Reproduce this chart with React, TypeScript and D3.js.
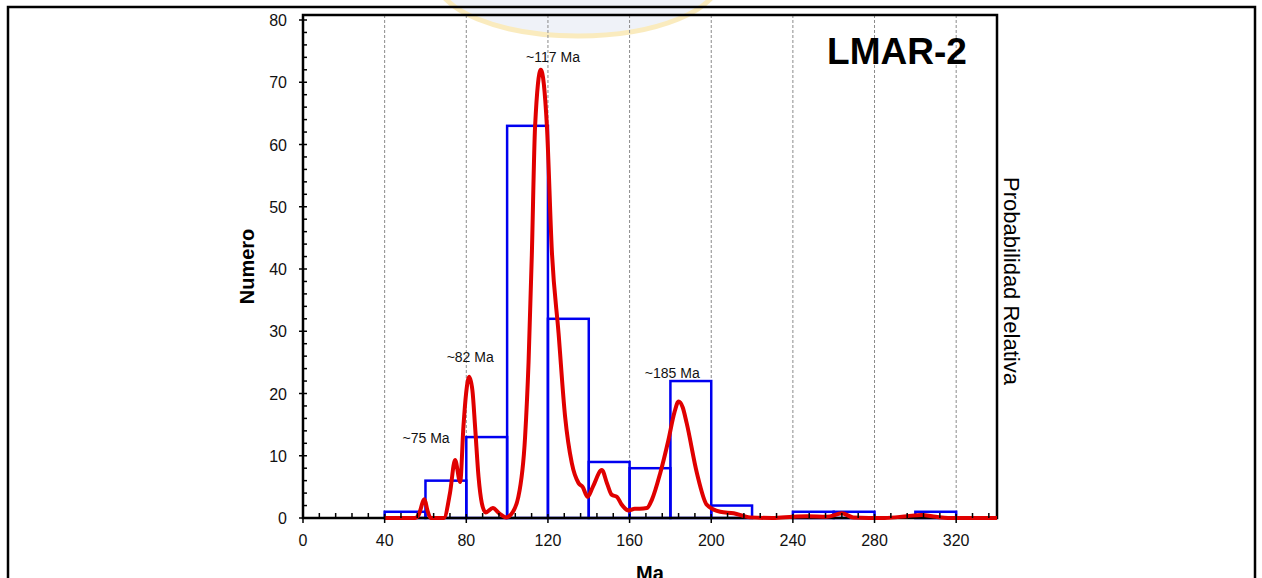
import { useEffect, useRef } from "react";
import * as d3 from "d3";

// histogram bins (20 Ma wide)
const binStarts = [40, 60, 80, 100, 120, 140, 160, 180, 200, 220, 240, 260, 280, 300];
const binCounts = [1, 6, 13, 63, 32, 9, 8, 22, 2, 0, 1, 1, 0, 1];
const binWidth = 20;

// relative probability curve (in units of the left axis)
const curveAges = [
  40, 55, 56.5, 59.5, 61, 62.5, 69, 72, 74.5, 77, 78.6, 79.9, 81.4, 83, 84.3, 86, 87.6, 89.5, 93, 96, 99.5,
  102, 105.5, 108.8, 110.5, 112.1, 113.7, 116.5, 119.5, 121.9, 125.2, 128.4, 131.7, 135, 137, 139.4, 142,
  146.4, 149, 151.3, 153.8, 156, 159.5, 162.5, 165, 168.5, 171, 175, 179, 182, 184, 186, 188, 193, 197.9,
  204.4, 211, 219, 230, 240, 247, 256.7, 264, 269.6, 285, 296, 303, 310, 316, 340,
];
const curveValues = [
  0, 0, 0.4, 3.0, 1.2, 0, 0, 4, 9.3, 5.8, 14.7, 20, 22.7, 20.5, 14.7, 6.6, 2.4, 0.9, 1.6, 0.8, 0.1,
  0.6, 3.4, 13, 25, 42.2, 62.9, 72, 62.9, 43, 29.7, 16.3, 8.8, 5.6, 5, 3.4, 5,
  7.7, 5.5, 3.7, 3.4, 2.2, 1.2, 1.5, 1.5, 1.6, 3, 7.2, 12.5, 17, 18.7, 17.8, 15.2, 7.2, 2.1,
  1.0, 0.75, 0.1, 0, 0.2, 0.3, 0.2, 0.75, 0.1, 0, 0.3, 0.5, 0.2, 0, 0,
];

const peakLabels = ["~75 Ma", "~82 Ma", "~117 Ma", "~185 Ma"];
const peakLabelAges = [60.3, 81.9, 122.5, 180.9];
const peakLabelHeights = [12, 25.1, 73.3, 22.5];

const xTicks = [0, 40, 80, 120, 160, 200, 240, 280, 320];
const xMinorStep = 8;
const yTicks = [0, 10, 20, 30, 40, 50, 60, 70, 80];
const yMinorStep = 2;
const gridTicks = [40, 80, 120, 160, 200, 240, 280, 320];

const FONT = "'Liberation Sans', Arial, Helvetica, sans-serif";

const App = () => {
  const svgRef = useRef<SVGSVGElement>(null);

  useEffect(() => {
    const svg = d3.select(svgRef.current);
    svg.selectAll("*").remove();

    const width = 1262;
    const height = 578;
    const plotLeft = 303;
    const plotRight = 997;
    const plotTop = 15;
    const plotBottom = 518;

    const x = d3.scaleLinear().domain([0, 340]).range([plotLeft, plotRight]);
    const y = d3.scaleLinear().domain([0, 80]).range([plotBottom, 20]);

    svg.append("rect").attr("width", width).attr("height", height).attr("fill", "#fff");

    // faded watermark at the top
    const wm = svg.append("g").attr("opacity", 0.55);
    wm.append("ellipse")
      .attr("cx", 578).attr("cy", -22).attr("rx", 142).attr("ry", 58)
      .attr("fill", "#e3e9f3").attr("stroke", "#f6dc8a").attr("stroke-width", 5);

    // outer frame
    svg.append("rect")
      .attr("x", 8).attr("y", 7).attr("width", 1247).attr("height", 600)
      .attr("fill", "none").attr("stroke", "#000").attr("stroke-width", 2.5);

    const g = svg.append("g");

    // dashed grid
    g.selectAll(".grid")
      .data(gridTicks)
      .enter()
      .append("line")
      .attr("x1", d => x(d)).attr("x2", d => x(d))
      .attr("y1", plotTop).attr("y2", plotBottom)
      .attr("stroke", "#8a8a8a").attr("stroke-width", 1)
      .attr("stroke-dasharray", "3,2");

    // histogram
    g.selectAll(".bin")
      .data(binStarts.map((s, i) => ({ s, c: binCounts[i] })).filter(d => d.c > 0))
      .enter()
      .append("rect")
      .attr("x", d => x(d.s))
      .attr("y", d => y(d.c))
      .attr("width", d => x(d.s + binWidth) - x(d.s))
      .attr("height", d => y(0) - y(d.c))
      .attr("fill", "none")
      .attr("stroke", "#0000f0")
      .attr("stroke-width", 2.5);

    // probability curve
    const line = d3.line<number>()
      .x((_, i) => x(curveAges[i]))
      .y(d => y(d))
      .curve(d3.curveMonotoneX);

    // axes and box
    g.append("rect")
      .attr("x", plotLeft).attr("y", plotTop)
      .attr("width", plotRight - plotLeft).attr("height", plotBottom - plotTop)
      .attr("fill", "none").attr("stroke", "#000").attr("stroke-width", 2.5);

    g.append("path")
      .attr("d", line(curveValues))
      .attr("fill", "none")
      .attr("stroke", "#e00000")
      .attr("stroke-width", 4)
      .attr("stroke-linejoin", "round");

    // x ticks
    const xMinor = d3.range(0, 340 + 0.01, xMinorStep).filter(v => v % 40 !== 0);
    g.selectAll(".xminor")
      .data(xMinor)
      .enter()
      .append("line")
      .attr("x1", d => x(d)).attr("x2", d => x(d))
      .attr("y1", plotBottom - 5).attr("y2", plotBottom)
      .attr("stroke", "#000").attr("stroke-width", 1.5);
    g.selectAll(".xmajor")
      .data(xTicks)
      .enter()
      .append("line")
      .attr("x1", d => x(d)).attr("x2", d => x(d))
      .attr("y1", plotBottom - 4).attr("y2", plotBottom + 5)
      .attr("stroke", "#000").attr("stroke-width", 1.5);
    g.selectAll(".xlabel")
      .data(xTicks)
      .enter()
      .append("text")
      .attr("x", d => x(d))
      .attr("y", 546)
      .attr("text-anchor", "middle")
      .attr("font-family", FONT)
      .attr("font-size", "16px")
      .attr("fill", "#111")
      .text(d => d);

    // y ticks
    const yMinor = d3.range(0, 80 + 0.01, yMinorStep).filter(v => v % 10 !== 0);
    g.selectAll(".yminor")
      .data(yMinor)
      .enter()
      .append("line")
      .attr("x1", plotLeft).attr("x2", plotLeft + 4)
      .attr("y1", d => y(d)).attr("y2", d => y(d))
      .attr("stroke", "#000").attr("stroke-width", 1.5);
    g.selectAll(".ymajor")
      .data(yTicks)
      .enter()
      .append("line")
      .attr("x1", plotLeft - 4).attr("x2", plotLeft + 4)
      .attr("y1", d => y(d)).attr("y2", d => y(d))
      .attr("stroke", "#000").attr("stroke-width", 1.5);
    g.selectAll(".ylabel")
      .data(yTicks)
      .enter()
      .append("text")
      .attr("x", plotLeft - 16)
      .attr("y", d => y(d) + 6)
      .attr("text-anchor", "end")
      .attr("font-family", FONT)
      .attr("font-size", "16px")
      .attr("fill", "#111")
      .text(d => d);

    // peak labels
    g.selectAll(".peak")
      .data(peakLabels)
      .enter()
      .append("text")
      .attr("x", (_, i) => x(peakLabelAges[i]))
      .attr("y", (_, i) => y(peakLabelHeights[i]))
      .attr("text-anchor", "middle")
      .attr("font-family", FONT)
      .attr("font-size", "14px")
      .attr("fill", "#111")
      .text(d => d);

    // title
    g.append("text")
      .attr("x", 897).attr("y", 64)
      .attr("text-anchor", "middle")
      .attr("font-family", FONT)
      .attr("font-weight", "bold")
      .attr("font-size", "37px")
      .attr("fill", "#000")
      .text("LMAR-2");

    // axis titles
    g.append("text")
      .attr("transform", `translate(254, ${(plotTop + plotBottom) / 2}) rotate(-90)`)
      .attr("text-anchor", "middle")
      .attr("font-family", FONT)
      .attr("font-weight", "bold")
      .attr("font-size", "20px")
      .attr("fill", "#000")
      .text("Numero");

    g.append("text")
      .attr("transform", `translate(1004, 281) rotate(90)`)
      .attr("text-anchor", "middle")
      .attr("font-family", FONT)
      .attr("font-size", "22px")
      .attr("fill", "#000")
      .text("Probabilidad Relativa");

    g.append("text")
      .attr("x", (plotLeft + plotRight) / 2).attr("y", 580)
      .attr("text-anchor", "middle")
      .attr("font-family", FONT)
      .attr("font-weight", "bold")
      .attr("font-size", "20px")
      .attr("fill", "#000")
      .text("Ma");
  }, []);

  return (
    <svg
      ref={svgRef}
      width={1262}
      height={578}
      style={{ position: "absolute", left: 0, top: 0, display: "block" }}
    ></svg>
  );
};

export default App;
